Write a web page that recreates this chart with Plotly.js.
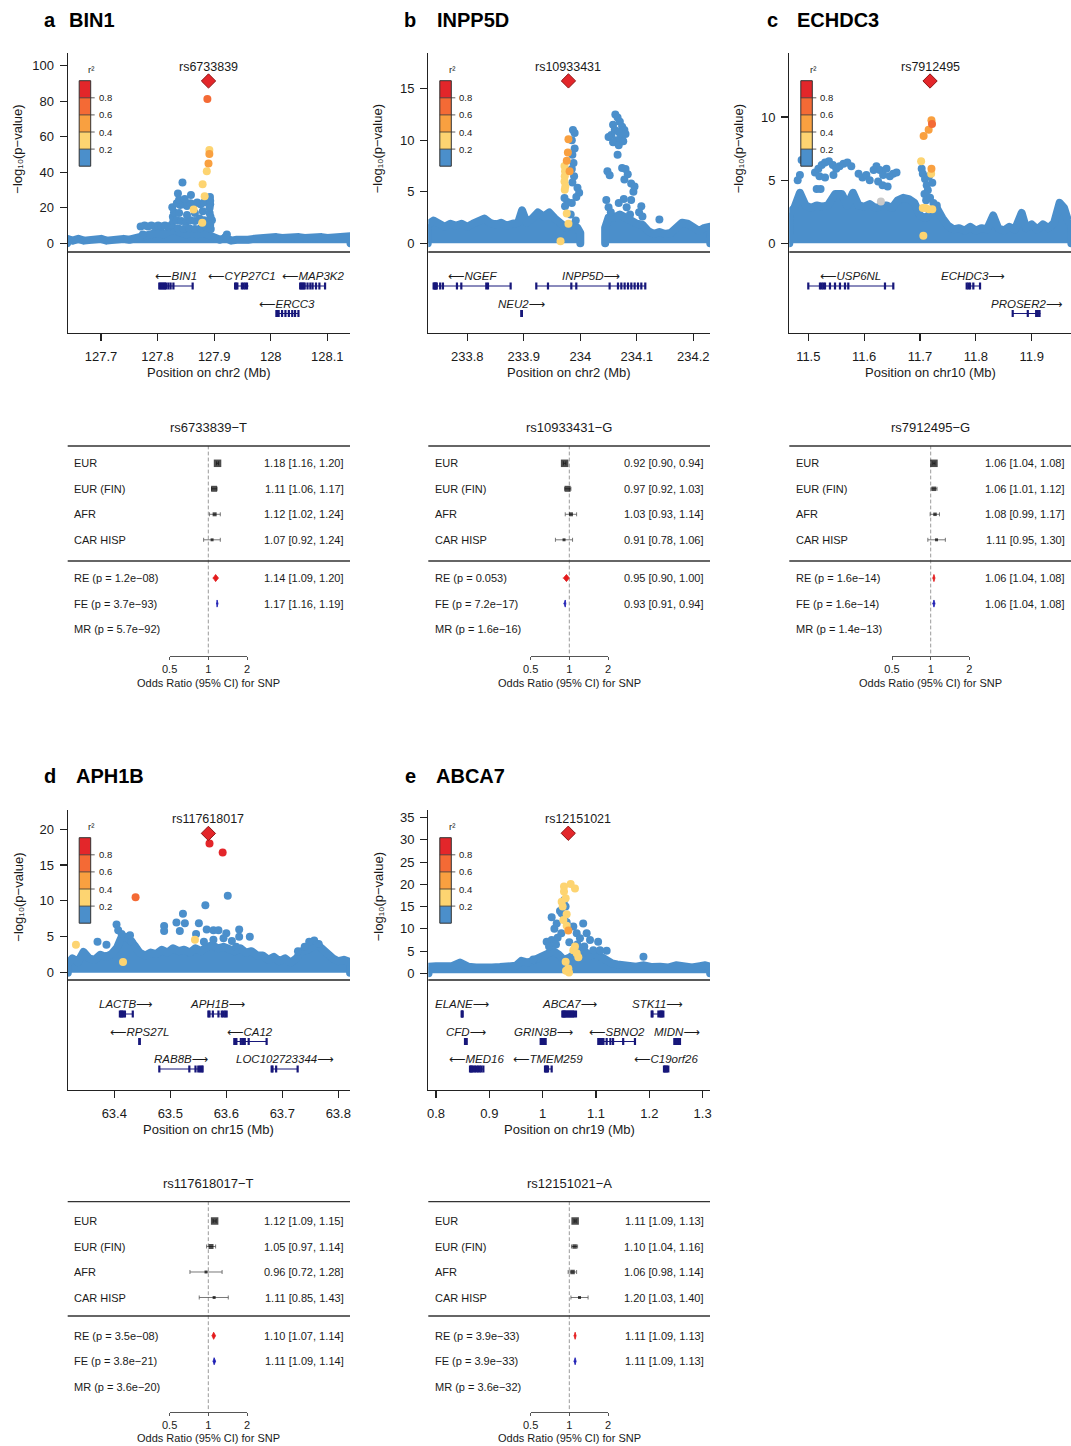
<!DOCTYPE html>
<html><head><meta charset="utf-8">
<script src="https://cdn.plot.ly/plotly-3.0.1.min.js"></script>
<style>
html,body{margin:0;padding:0;background:#fff;}
#chart{width:1071px;height:1446px;}
.js-line{stroke-linejoin:round;stroke-linecap:round;}
</style></head><body><div id="chart"></div>
<script>
// ======================= DATA =======================
const panelLetter = ['a','b','c','d','e'];
const panelGene   = ['BIN1','INPP5D','ECHDC3','APH1B','ABCA7'];
const chromName   = ['chr2','chr2','chr10','chr15','chr19'];
const leadSnp     = ['rs6733839','rs10933431','rs7912495','rs117618017','rs12151021'];
const leadAllele  = ['T','G','G','T','A'];
const leadPos     = [127.890, 233.979, 11.718, 63.568, 1.048];
const leadLogP    = [91.4, 15.75, 12.85, 19.4, 31.5];
const xTicks = [[127.7,127.8,127.9,128,128.1],[233.8,233.9,234,234.1,234.2],[11.5,11.6,11.7,11.8,11.9],[63.4,63.5,63.6,63.7,63.8],[0.8,0.9,1,1.1,1.2,1.3]];
const yTicks = [[0,20,40,60,80,100],[0,5,10,15],[0,5,10],[0,5,10,15,20],[0,5,10,15,20,25,30,35]];

// ---- dense low-significance band (top envelope of the point cloud, r2<0.2) ----
const bandX_a = [127.640,127.650,127.660,127.670,127.680,127.690,127.700,127.710,127.720,127.730,127.740,127.750,127.760,127.770,127.780,127.790,127.800,127.810,127.820,127.830,127.840,127.850,127.860,127.870,127.880,127.890,127.900,127.910,127.920,127.930,127.940,127.950,127.960,127.970,127.980,127.990,128.000,128.010,128.020,128.030,128.040,128.050,128.060,128.070,128.080,128.090,128.100,128.110,128.120,128.130,128.141];
const bandY_a = [2.5,1.5,2.5,1.5,2,1.5,2.5,1.5,2,1.5,2.5,2,3,4,5,5.5,6,5,7,8,6,5,6,5,6,5,3,2,3,1.5,2,1.5,2,2.5,3,2.5,3,3.5,3,3.5,3,3.5,3,3.5,3,3.5,3,3.5,3,3.5,4];
const bandX_b = [233.730,233.740,233.750,233.760,233.770,233.780,233.790,233.800,233.810,233.820,233.830,233.840,233.850,233.860,233.870,233.880,233.890,233.897,233.905,233.915,233.925,233.935,233.945,233.955,233.965,233.975,233.985,233.995,234.000,null,234.044,234.050,234.060,234.070,234.080,234.090,234.100,234.110,234.120,234.130,234.140,234.150,234.160,234.170,234.180,234.190,234.200,234.210,234.220,234.230];
const bandY_b = [1.8,2.2,2.0,1.6,1.9,1.7,1.9,1.6,1.9,2.1,2.4,2.0,1.8,2.0,1.7,1.9,2.0,3.2,2.0,2.4,3.0,2.6,3.0,2.4,2.0,1.5,1.8,1.5,1.0,null,1.5,2.5,2.5,2.8,2.6,2.2,1.9,1.8,1.2,0.9,1.1,0.9,1.0,1.4,2.0,1.9,1.6,1.2,1.5,1.6];
const bandX_c = [11.466,11.475,11.485,11.495,11.505,11.515,11.525,11.535,11.548,11.560,11.570,11.580,11.590,11.600,11.610,11.620,11.630,11.640,11.650,11.660,11.670,11.680,11.690,11.700,11.710,11.720,11.730,11.740,11.750,11.760,11.770,11.780,11.790,11.800,11.810,11.820,11.831,11.840,11.850,11.860,11.870,11.882,11.890,11.900,11.910,11.920,11.930,11.940,11.950,11.958,11.965,11.971];
const bandY_c = [2.4,2.8,4.0,3.0,2.8,3.0,2.9,3.0,3.9,3.9,3.0,4.0,3.0,2.9,3.1,2.8,2.9,3.0,2.8,3.4,3.6,3.5,3.2,2.2,2.0,2.4,2.8,2.0,1.4,1.1,1.2,1.0,1.3,1.0,1.2,1.1,2.2,1.2,1.0,1.3,1.1,2.4,1.2,1.5,1.1,1.5,1.2,1.6,3.2,2.8,1.8,1.5];
const bandX_d = [63.317,63.325,63.335,63.345,63.355,63.365,63.375,63.385,63.395,63.405,63.412,63.420,63.428,63.436,63.445,63.455,63.465,63.475,63.485,63.495,63.505,63.515,63.525,63.535,63.545,63.555,63.565,63.575,63.585,63.595,63.605,63.615,63.625,63.635,63.645,63.655,63.665,63.675,63.685,63.695,63.705,63.715,63.725,63.735,63.745,63.755,63.762,63.770,63.780,63.790,63.800,63.810,63.821];
const bandY_d = [1.2,2.0,1.5,2.9,2.0,1.8,2.5,2.2,2.6,3.5,4.8,5.0,4.6,3.8,2.8,2.4,2.8,2.6,3.2,2.8,3.4,3.0,3.2,2.8,3.4,3.0,3.6,3.8,3.4,3.6,3.2,3.0,3.4,2.8,3.0,2.4,2.4,1.8,2.2,1.6,2.0,1.4,2.0,3.0,3.2,3.8,4.0,3.4,2.6,2.0,1.6,1.8,1.5];
const bandX_e = [0.786,0.800,0.815,0.830,0.845,0.860,0.875,0.890,0.905,0.920,0.935,0.950,0.960,0.972,0.985,0.998,1.010,1.020,1.030,1.040,1.050,1.060,1.070,1.080,1.090,1.100,1.110,1.120,1.130,1.140,1.150,1.160,1.175,1.190,1.205,1.220,1.235,1.250,1.265,1.280,1.295,1.305,1.314];
const bandY_e = [1.5,1.6,1.4,1.6,2.4,1.5,1.3,1.5,1.3,1.4,1.5,1.7,2.8,2.4,3.0,3.6,4.5,5.0,4.2,3.0,3.5,4.4,5.2,4.8,4.0,4.4,3.5,2.6,2.2,2.0,1.8,1.6,1.5,1.8,1.4,1.5,1.3,1.8,1.4,1.3,1.6,1.8,1.5];

// ---- individual SNPs with r2 < 0.2 above the band ----
const bgX_a = [127.774,127.770,127.777,127.783,127.789,127.795,127.801,127.807,127.813,127.819,
  127.825,127.828,127.827,127.829,127.826,127.836,127.844,127.859,127.834,127.840,
  127.846,127.852,127.858,127.864,127.870,127.876,127.882,127.893,127.838,127.848,
  127.834,127.842,127.850,127.858,127.866,127.874,127.882,127.890,127.896,127.838,
  127.852,127.866,127.880,127.892,127.836,127.846,127.856,127.866,127.876,127.886,
  127.894,127.8926,127.893,127.892,127.8935,127.893,127.9225,127.920];
const bgY_a = [5.0,9.5,10,9.5,10,9.5,10,9.5,10,9.5,
  10.5,12.5,15,17.5,20.3,28.1,34.3,27.2,22.5,21.5,
  22,21,22.5,22,23,22,23,22,24.5,25,
  13,12.5,12,13,12.5,14,13,12,13,17,
  16,17,18,17,8.5,8,8.5,8,8.5,9,
  8,26,24,20,15,10.5,5.0,3.5];
const bgX_b = [233.987,233.990,233.985,233.990,233.986,233.988,233.985,233.989,233.986,233.995,
  233.998,233.993,233.985,233.977,233.983,233.992,233.973,233.972,
  234.062,234.066,234.070,234.058,234.074,234.078,234.061,234.055,234.068,234.072,
  234.080,234.050,234.064,234.058,234.068,234.076,234.066,234.048,234.052,234.074,
  234.080,234.084,234.078,234.046,234.050,234.054,234.068,234.077,234.082,234.088,
  234.094,234.090,234.108,234.104,234.110,234.140,234.090,234.096];
const bgY_b = [11.0,10.7,10.0,9.2,8.6,7.8,7.2,6.5,5.9,5.4,
  4.9,4.5,3.9,4.0,2.8,2.2,3.6,4.4,
  12.5,12.2,11.8,11.5,11.3,11.0,11.0,10.5,10.8,10.4,
  10.6,10.3,10.0,9.8,9.5,9.9,8.6,7.0,6.6,7.3,
  7.2,6.7,6.2,4.2,3.5,3.0,3.9,4.3,3.5,2.8,
  5.0,4.2,3.6,3.0,2.6,2.3,5.8,5.5];
const bgX_c = [11.488,11.485,11.481, 11.515,11.522,
  11.512,11.518,11.524,11.530,11.537,11.544,11.550,11.556,11.563,11.570,11.577,11.520,11.530,11.545,
  11.590,11.597,11.604,11.610,
  11.617,11.622,11.628,11.634,11.640,11.646,11.652,11.658,11.625,11.633,11.642,
  11.703,11.705,11.709,11.712,11.714,11.708,11.718,11.722,11.716,11.711,11.724,11.730];
const bgY_c = [6.6,5.4,5.0, 4.3,4.3,
  5.6,5.9,6.2,6.4,6.5,6.2,5.9,6.1,6.3,6.4,6.1,5.3,5.2,5.4,
  5.5,5.2,5.4,5.0,
  5.8,6.1,5.8,5.4,5.9,5.3,5.5,5.6,4.9,4.6,4.5,
  5.9,5.5,5.1,4.6,4.2,3.9,3.6,4.8,5.3,3.4,3.2,3.0];
const bgX_d = [63.5626,63.6026,63.5226,63.489,63.489,63.511,63.526,63.517,63.551,63.565,
  63.577,63.586,63.577,63.600,63.623,63.623,63.642,63.6175,63.404,63.407,
  63.413,63.428,63.431,63.370,63.386,63.757,63.748,63.765,63.740,63.728,
  63.546,63.560,63.595,63.610];
const bgY_d = [9.4,10.7,8.2,6.5,5.8,7.0,6.9,5.8,6.9,6.0,
  5.9,5.9,4.6,5.5,6.0,5.0,5.0,3.6,6.7,5.9,
  5.4,5.2,4.3,4.3,3.9,4.5,4.3,4.0,3.6,3.0,
  5.4,4.3,4.8,4.4];
const bgX_e = [1.0169,1.0325,1.043,1.0406,1.0263,1.022,1.0075,1.0169,1.076,1.0825,
  1.0888,1.104,1.095,1.1075,1.120,1.189,0.9825,1.0575,1.0638,1.070,
  1.035,1.028,1.045,1.040,1.0356,1.050,1.065,1.078,1.012,1.025];
const bgY_e = [12.6,14.0,15.0,16.5,11.2,10.0,7.1,7.5,11.2,9.0,
  7.5,7.1,5.2,5.2,5.1,3.7,3.1,10.5,9.0,7.9,
  9.0,8.0,11.5,12.5,13.5,7.0,6.5,6.0,6.0,6.5];

// ---- SNPs in LD with the lead SNP (r2 >= 0.2) ----
const ldX_a = [127.8915,127.8915,127.890,127.887,127.8796,127.8832,127.8637,127.879,127.888];
const ldY_a = [52.5,50.3,45,40.5,33.2,26.5,19.1,11.6,81.2];
const ldR2_a = [0.3,0.5,0.5,0.3,0.3,0.3,0.3,0.3,0.7];
const ldX_b = [233.972,233.973,233.9725,233.972,233.9735,233.9725,233.976,233.979,233.965,233.979,233.978,233.976,233.981];
const ldY_b = [7.5,7.0,6.5,6.0,5.5,5.2,2.9,1.9,0.2,10.1,8.8,8.0,7.0];
const ldR2_b = [0.3,0.3,0.3,0.3,0.3,0.3,0.3,0.3,0.3,0.5,0.5,0.5,0.5];
const ldX_c = [11.7205,11.7215,11.7065,11.7155,11.7205,11.702,11.720,11.705,11.710,11.716,11.722,11.706];
const ldY_c = [9.75,9.45,8.5,9.0,5.9,6.5,5.5,2.8,2.8,2.7,2.7,0.6];
const ldR2_c = [0.5,0.7,0.5,0.5,0.5,0.3,0.3,0.3,0.3,0.3,0.3,0.3];
const ldX_d = [63.570,63.5935,63.438,63.3315,63.4156,63.544];
const ldY_d = [18.0,16.75,10.5,3.9,1.5,4.6];
const ldR2_d = [0.9,0.9,0.7,0.3,0.3,0.3];
const ldX_e = [1.0481,1.040,1.0525,1.0606,1.040,1.0431,1.0356,1.0375,1.045,1.0388,1.045,1.0575,1.0638,1.0606,1.0669,1.0431,1.0481,1.0494,1.0438];
const ldY_e = [9.6,19.5,20.1,19.1,18.4,16.9,16.1,15.0,13.3,12.0,10.7,5.2,4.5,6.0,3.6,2.6,1.1,0.2,0.6];
const ldR2_e = [0.5,0.3,0.3,0.3,0.3,0.3,0.3,0.3,0.3,0.3,0.3,0.3,0.3,0.3,0.3,0.3,0.3,0.3,0.3];
// SNP without LD information (panel c)
const naX_c = [11.630];
const naY_c = [3.3];

// ---- genes ----
const geneName_a = ['BIN1','CYP27C1','MAP3K2','ERCC3'];
const geneStart_a = [127.803,127.937,128.052,128.010];
const geneEnd_a = [127.862,127.960,128.096,128.049];
const geneStrand_a = [-1,-1,-1,-1];
const geneRow_a = [1,1,1,2];
const geneExons_a = [[127.803,127.805,127.807,127.809,127.811,127.813,127.815,127.819,127.823,127.828,127.862],[127.937,127.939,127.941,127.949,127.952,127.955,127.958],[128.052,128.054,128.056,128.058,128.060,128.065,128.070,128.074,128.080,128.086,128.096],[128.010,128.012,128.014,128.020,128.026,128.032,128.038,128.043,128.049]];
const geneName_b = ['NGEF','INPP5D','NEU2'];
const geneStart_b = [233.7404,233.9221,233.8956];
const geneEnd_b = [233.8767,234.1150,233.8970];
const geneStrand_b = [-1,1,1];
const geneRow_b = [1,1,2];
const geneExons_b = [[233.7404,233.7418,233.7432,233.7446,233.7460,233.7520,233.7569,233.7817,233.7894,233.8336,233.8366,233.8767],[233.9221,233.9428,233.9841,233.9929,234.0519,234.0667,234.0726,234.0785,234.0844,234.0903,234.0962,234.1021,234.1080,234.1150],[233.8956,233.8966]];
const geneName_c = ['USP6NL','ECHDC3','PROSER2'];
const geneStart_c = [11.500,11.7836,11.866];
const geneEnd_c = [11.6522,11.8075,11.915];
const geneStrand_c = [-1,1,1];
const geneRow_c = [1,1,2];
const geneExons_c = [[11.500,11.5209,11.5239,11.5269,11.5299,11.5388,11.5478,11.5567,11.5657,11.5716,11.6373,11.6522],[11.7836,11.7866,11.7896,11.7955,11.8075],[11.866,11.893,11.908,11.911,11.914]];
const geneName_d = ['LACTB','APH1B','RPS27L','CA12','RAB8B','LOC102723344'];
const geneStart_d = [63.410,63.568,63.4446,63.6143,63.4804,63.681];
const geneEnd_d = [63.433,63.6006,63.4455,63.672,63.5577,63.7274];
const geneStrand_d = [1,1,-1,-1,1,1];
const geneRow_d = [1,1,2,2,3,3];
const geneExons_d = [[63.410,63.412,63.414,63.416,63.419,63.433],[63.568,63.570,63.576,63.586,63.592,63.595,63.598,63.6006],[63.4446,63.4455],[63.6143,63.616,63.618,63.626,63.630,63.633,63.640,63.672],[63.4804,63.534,63.545,63.550,63.553,63.556,63.5577],[63.681,63.6825,63.689,63.7274]];
const geneName_e = ['ELANE','ABCA7','STK11','CFD','GRIN3B','SBNO2','MIDN','MED16','TMEM259','C19orf26'];
const geneStart_e = [0.8481,1.0369,1.2044,0.8544,0.9963,1.1044,1.2469,0.8638,1.0044,1.2275];
const geneEnd_e = [0.8500,1.0625,1.2263,0.8575,1.0056,1.1731,1.2575,0.8888,1.0169,1.2356];
const geneStrand_e = [1,1,1,1,1,-1,1,-1,-1,-1];
const geneRow_e = [1,1,1,2,2,2,2,3,3,3];
const geneExons_e = [[0.8481,0.8490,0.8500],[1.0369,1.0385,1.0400,1.0415,1.0430,1.0450,1.0470,1.0490,1.0510,1.0530,1.0550,1.0570,1.0590,1.0625],[1.2044,1.2060,1.2170,1.2200,1.2220,1.2240,1.2263],[0.8544,0.8555,0.8565,0.8575],[0.9963,0.9980,1.0000,1.0020,1.0040,1.0056],[1.1044,1.1055,1.1070,1.1085,1.1100,1.1120,1.1140,1.1200,1.1270,1.1320,1.1510,1.1731],[1.2469,1.2485,1.2500,1.2520,1.2540,1.2560,1.2575],[0.8638,0.8655,0.8675,0.8700,0.8730,0.8760,0.8790,0.8820,0.8850,0.8888],[1.0044,1.0060,1.0080,1.0100,1.0169],[1.2275,1.2290,1.2310,1.2330,1.2356]];

// ---- forest plots ----
const popLabels = ['EUR','EUR (FIN)','AFR','CAR HISP'];
const popOR = [[1.18,1.11,1.12,1.07],[0.92,0.97,1.03,0.91],[1.06,1.06,1.08,1.11],[1.12,1.05,0.96,1.11],[1.11,1.10,1.06,1.20]];
const popLo = [[1.16,1.06,1.02,0.92],[0.90,0.92,0.93,0.78],[1.04,1.01,0.99,0.95],[1.09,0.97,0.72,0.85],[1.09,1.04,0.98,1.03]];
const popHi = [[1.20,1.17,1.24,1.24],[0.94,1.03,1.14,1.06],[1.08,1.12,1.17,1.30],[1.15,1.14,1.28,1.43],[1.13,1.16,1.14,1.40]];
const reOR = [1.14,0.95,1.06,1.10,1.11];
const reLo = [1.09,0.90,1.04,1.07,1.09];
const reHi = [1.20,1.00,1.08,1.14,1.13];
const reP  = [1.2e-8,0.053,1.6e-14,3.5e-8,3.9e-33];
const feOR = [1.17,0.93,1.06,1.11,1.11];
const feLo = [1.16,0.91,1.04,1.09,1.09];
const feHi = [1.19,0.94,1.08,1.14,1.13];
const feP  = [3.7e-93,7.2e-17,1.6e-14,3.8e-21,3.9e-33];
const mrP  = [5.7e-92,1.6e-16,1.4e-13,3.6e-20,3.6e-32];
const orTicks = [0.5,1,2];

// ======================= STYLE / GEOMETRY =======================
const W = 1071, H = 1446;
const FONT = '"Liberation Sans", Arial, Helvetica, "DejaVu Sans", sans-serif';
const TXT = '#1a1a1a';
const C_BLUE='#4B8FCB', C_YEL='#FDD471', C_ORA='#F9A040', C_ORR='#F46A35', C_RED='#E3262A', C_NA='#C9C9C9';
const NAVY = '#17177A';
const fx = p => p / W, fy = p => 1 - p / H;
const COLS = [{l:67.7, r:350, c1:208.3},{l:428.3, r:710, c1:569.3},{l:789.3, r:1071, c1:930.7}];
const ROWG = [
  {title:20, scTop:53, scBot:252, gBot:333, axTitle:373, yMid:149, fTitle:427, fTop:446, fEur:463.3, fSep:561, fAxis:656, fAxTitle:683},
  {title:776, scTop:810, scBot:980, gBot:1090, axTitle:1129, yMid:897, fTitle:1183, fTop:1201.7, fEur:1221, fSep:1316, fAxis:1411.7, fAxTitle:1438}
];
const POS = [{c:0,r:0},{c:1,r:0},{c:2,r:0},{c:0,r:1},{c:1,r:1}];
const XCAL = [{v:127.7,px:101.0,ppu:565.8},{v:233.8,px:467.3,ppu:565},{v:11.5,px:808.3,ppu:558.5},{v:63.4,px:114.3,ppu:560},{v:0.8,px:436,ppu:533.3}];
const YCAL = [{px:243.3,ppu:1.776},{px:243.3,ppu:10.31},{px:243.3,ppu:12.63},{px:972.7,ppu:7.18},{px:973.3,ppu:4.446}];
const titleX = [{l:50,g:67},{l:410,g:435},{l:772,g:795},{l:50,g:74},{l:410,g:434}];
const leadLabelDx = [0,0,0,0,10];
const boxSize = [[7.5,6,4,3],[7.5,6,4,3],[7.5,4.5,3.5,3],[7.5,5,3,3],[7.5,4.5,4.5,3]];
const ROWPX = 25.5, GENE_ROWPX = 27.5;

const bands = [[bandX_a,bandY_a],[bandX_b,bandY_b],[bandX_c,bandY_c],[bandX_d,bandY_d],[bandX_e,bandY_e]];
const bgs = [[bgX_a,bgY_a],[bgX_b,bgY_b],[bgX_c,bgY_c],[bgX_d,bgY_d],[bgX_e,bgY_e]];
const lds = [[ldX_a,ldY_a,ldR2_a],[ldX_b,ldY_b,ldR2_b],[ldX_c,ldY_c,ldR2_c],[ldX_d,ldY_d,ldR2_d],[ldX_e,ldY_e,ldR2_e]];
const nas = [[[],[]],[[],[]],[naX_c,naY_c],[[],[]],[[],[]]];
const genes = [
  [geneName_a,geneStart_a,geneEnd_a,geneStrand_a,geneRow_a,geneExons_a],
  [geneName_b,geneStart_b,geneEnd_b,geneStrand_b,geneRow_b,geneExons_b],
  [geneName_c,geneStart_c,geneEnd_c,geneStrand_c,geneRow_c,geneExons_c],
  [geneName_d,geneStart_d,geneEnd_d,geneStrand_d,geneRow_d,geneExons_d],
  [geneName_e,geneStart_e,geneEnd_e,geneStrand_e,geneRow_e,geneExons_e]];

function r2col(r){ return r<0.2?C_BLUE : r<0.4?C_YEL : r<0.6?C_ORA : r<0.8?C_ORR : C_RED; }
function fmtP(p){
  if (p >= 0.001) return String(p);
  const parts = p.toExponential(1).split('e');
  const n = parseInt(parts[1],10);
  return parts[0] + 'e' + (n<0?'\u2212':'+') + String(Math.abs(n)).padStart(2,'0');
}
function bandPolygon(xs, ys){
  const px=[], py=[]; let seg=[];
  const flush=()=>{ if(seg.length){ px.push(seg[0][0]); py.push(0); seg.forEach(p=>{px.push(p[0]);py.push(p[1]);}); px.push(seg[seg.length-1][0]); py.push(0); px.push(null); py.push(null);} seg=[]; };
  xs.forEach((x,k)=>{ if(x===null) flush(); else seg.push([x,ys[k]]); });
  flush();
  return {x:px, y:py};
}

const traces = [];
const layout = {width:W, height:H, margin:{l:0,r:0,t:0,b:0}, paper_bgcolor:'#fff', plot_bgcolor:'rgba(0,0,0,0)',
  showlegend:false, font:{family:FONT, size:13, color:TXT}, annotations:[], shapes:[]};
function ann(o){ const f = Object.assign({family:FONT,size:13,color:TXT}, o.font||{}); layout.annotations.push(Object.assign({showarrow:false, xref:'paper', yref:'paper'}, o, {font:f})); }
function hline(x0,x1,y,color,w){ layout.shapes.push({type:'line',xref:'paper',yref:'paper',x0:fx(x0),x1:fx(x1),y0:fy(y),y1:fy(y),line:{color:color,width:w}}); }
const axN = n => n===1 ? '' : String(n);

for (let i=0;i<5;i++){
  const C = COLS[POS[i].c], R = ROWG[POS[i].r];
  const nxL = 2*i+1, nxF = 2*i+2, nyS = 3*i+1, nyG = 3*i+2, nyF = 3*i+3;
  const xL='x'+axN(nxL), xF='x'+axN(nxF), yS='y'+axN(nyS), yG='y'+axN(nyG), yF='y'+axN(nyF);
  const xc = XCAL[i], yc = YCAL[i];
  const xRange = [xc.v - (xc.px - C.l)/xc.ppu, xc.v + (C.r - xc.px)/xc.ppu];
  const yRange = [-(R.scBot - yc.px)/yc.ppu, (yc.px - R.scTop)/yc.ppu];
  const gTopVal = 1 - 34/GENE_ROWPX, gBotVal = 1 + (R.gBot - R.scBot - 34)/GENE_ROWPX;

  // ---------- axes ----------
  layout['xaxis'+axN(nxL)] = {domain:[fx(C.l), fx(C.r)], anchor:yG, range:xRange, showline:true, linecolor:'#222', linewidth:1.2,
    ticks:'outside', ticklen:7, tickwidth:1.1, tickcolor:'#222', tickmode:'array', tickvals:xTicks[i], ticktext:xTicks[i].map(String),
    tickfont:{family:FONT,size:13,color:TXT}, ticklabelstandoff:4, showgrid:false, zeroline:false, fixedrange:true};
  layout['yaxis'+axN(nyS)] = {domain:[fy(R.scBot), fy(R.scTop)], anchor:xL, range:yRange, showline:true, linecolor:'#222', linewidth:1.2,
    ticks:'outside', ticklen:7, tickwidth:1.1, tickcolor:'#222', tickmode:'array', tickvals:yTicks[i], ticktext:yTicks[i].map(String),
    tickfont:{family:FONT,size:13,color:TXT}, ticklabelstandoff:3, showgrid:false, zeroline:false, fixedrange:true};
  layout['yaxis'+axN(nyG)] = {domain:[fy(R.gBot), fy(R.scBot)], anchor:xL, range:[gBotVal, gTopVal], showline:true, linecolor:'#222', linewidth:1.2,
    ticks:'', showticklabels:false, showgrid:false, zeroline:false, fixedrange:true};
  const lg2 = Math.log10(2), ppd = 38.7;
  layout['xaxis'+axN(nxF)] = {domain:[fx(C.c1-ppd), fx(C.c1+ppd)], anchor:yF, type:'log', range:[-lg2, lg2], showline:true, linecolor:'#555', linewidth:1,
    ticks:'outside', ticklen:3, tickwidth:1, tickcolor:'#555', tickmode:'array', tickvals:orTicks, ticktext:orTicks.map(String),
    tickfont:{family:FONT,size:11,color:TXT}, ticklabelstandoff:0, showgrid:false, zeroline:false, fixedrange:true};
  const fTopVal = 1 - (R.fEur - R.fTop)/ROWPX, fBotVal = 1 + (R.fAxis - R.fEur)/ROWPX;
  layout['yaxis'+axN(nyF)] = {domain:[fy(R.fAxis), fy(R.fTop)], anchor:xF, range:[fBotVal, fTopVal], visible:false, fixedrange:true};

  // ---------- locus scatter ----------
  const poly = bandPolygon(bands[i][0], bands[i][1]);
  traces.push({type:'scatter', mode:'lines', x:poly.x, y:poly.y, xaxis:xL, yaxis:yS, fill:'toself', fillcolor:C_BLUE,
    line:{color:C_BLUE, width:8}, hoverinfo:'skip'});
  traces.push({type:'scatter', mode:'markers', x:bgs[i][0], y:bgs[i][1], xaxis:xL, yaxis:yS,
    marker:{size:8, color:C_BLUE, line:{width:0}}, hoverinfo:'skip'});
  if (nas[i][0].length) traces.push({type:'scatter', mode:'markers', x:nas[i][0], y:nas[i][1], xaxis:xL, yaxis:yS,
    marker:{size:8, color:C_NA, line:{width:0}}, hoverinfo:'skip'});
  [0.3,0.5,0.7,0.9].forEach(cls=>{
    const idx = lds[i][2].map((r,k)=>[r,k]).filter(p=>r2col(p[0])===r2col(cls)).map(p=>p[1]);
    if (!idx.length) return;
    traces.push({type:'scatter', mode:'markers', x:idx.map(k=>lds[i][0][k]), y:idx.map(k=>lds[i][1][k]), xaxis:xL, yaxis:yS,
      marker:{size:8, color:r2col(cls), line:{width:0}}, hoverinfo:'skip'});
  });
  traces.push({type:'scatter', mode:'markers', x:[leadPos[i]], y:[leadLogP[i]], xaxis:xL, yaxis:yS,
    marker:{symbol:'diamond', size:11, color:C_RED, line:{color:'#8E1515', width:1}}, hoverinfo:'skip', cliponaxis:false});
  ann({xref:xL, yref:yS, x:leadPos[i], y:leadLogP[i], yshift:14, xshift:leadLabelDx[i], text:leadSnp[i], font:{size:12.5}});

  // separator line between scatter and gene track
  hline(C.l, C.r, R.scBot, '#222', 1.3);

  // ---------- gene track ----------
  const G = genes[i];
  const lx=[], ly=[], ex=[], ey=[];
  G[0].forEach((name,k)=>{
    lx.push(G[1][k], G[2][k], null); ly.push(G[4][k], G[4][k], null);
    G[5][k].forEach(e=>{ ex.push(e); ey.push(G[4][k]); });
    const label = G[3][k] < 0 ? '\u27F5' + name : name + '\u27F6';
    ann({xref:xL, yref:yG, x:(G[1][k]+G[2][k])/2, y:G[4][k], yshift:10, text:label, font:{size:11.5, style:'italic'}});
  });
  traces.push({type:'scatter', mode:'lines', x:lx, y:ly, xaxis:xL, yaxis:yG, line:{color:NAVY, width:1}, hoverinfo:'skip'});
  traces.push({type:'scatter', mode:'markers', x:ex, y:ey, xaxis:xL, yaxis:yG,
    marker:{symbol:'line-ns', size:5, color:NAVY, line:{color:NAVY, width:2.2}}, hoverinfo:'skip'});

  // ---------- r2 legend ----------
  const bl = C.l + 11.5, bw = 11.5, bt = R.scTop + 27.7, bh = 85.5;
  const cls = [C_BLUE, C_YEL, C_ORA, C_ORR, C_RED];
  cls.forEach((c,k)=>{
    const y1 = bt + bh - k*bh/5, y0 = y1 - bh/5;
    layout.shapes.push({type:'rect', xref:'paper', yref:'paper', x0:fx(bl), x1:fx(bl+bw), y0:fy(y1), y1:fy(y0), fillcolor:c, line:{width:0}});
  });
  [0.2,0.4,0.6,0.8].forEach(v=>{
    const yy = bt + bh*(1-v);
    hline(bl, bl+bw+4, yy, '#333', 0.8);
    ann({x:fx(bl+bw+6), y:fy(yy), xanchor:'left', yanchor:'middle', text:String(v), font:{size:9.5}});
  });
  layout.shapes.push({type:'rect', xref:'paper', yref:'paper', x0:fx(bl), x1:fx(bl+bw), y0:fy(bt+bh), y1:fy(bt), line:{color:'#333', width:1}});
  ann({x:fx(bl+bw/2+6), y:fy(bt-11), xanchor:'center', yanchor:'middle', text:'r\u00B2', font:{size:9.5}});

  // ---------- panel texts ----------
  ann({x:fx(titleX[i].l), y:fy(R.title), xanchor:'center', yanchor:'middle', text:panelLetter[i], font:{size:20, color:'#000', weight:'bold'}});
  ann({x:fx(titleX[i].g), y:fy(R.title), xanchor:'left', yanchor:'middle', text:panelGene[i], font:{size:20, color:'#000', weight:'bold'}});
  ann({x:fx(C.l-50), y:fy(R.yMid), xanchor:'center', yanchor:'middle', textangle:-90, text:'\u2212log\u2081\u2080(p\u2212value)', font:{size:13}});
  ann({x:fx((C.l+C.r)/2), y:fy(R.axTitle), xanchor:'center', yanchor:'middle', text:'Position on '+chromName[i]+' (Mb)', font:{size:13}});

  // ---------- forest plot ----------
  ann({x:fx(C.c1), y:fy(R.fTitle), xanchor:'center', yanchor:'middle', text:leadSnp[i]+'\u2212'+leadAllele[i], font:{size:13}});
  hline(C.l, C.r, R.fTop, '#333', 1.3);
  hline(C.l, C.r, R.fSep, '#333', 1.3);
  traces.push({type:'scatter', mode:'lines', x:[1,1], y:[fTopVal, fBotVal], xaxis:xF, yaxis:yF, line:{color:'#9a9a9a', width:1, dash:'dot'}, hoverinfo:'skip', cliponaxis:false});
  const rows = [1,2,3,4];
  traces.push({type:'scatter', mode:'markers', x:popOR[i], y:rows, xaxis:xF, yaxis:yF,
    marker:{symbol:'square', size:boxSize[i], color:'#000', line:{width:0}},
    error_x:{type:'data', symmetric:false, array:popHi[i].map((h,k)=>h-popOR[i][k]), arrayminus:popOR[i].map((o,k)=>o-popLo[i][k]), color:'#555', thickness:0.8, width:2},
    hoverinfo:'skip', cliponaxis:false});
  const dh = 0.14;
  const diamond = (lo,o,hi,r,col)=>({type:'scatter', mode:'lines', x:[lo,o,hi,o,lo], y:[r,r-dh,r,r+dh,r], xaxis:xF, yaxis:yF,
    fill:'toself', fillcolor:col, line:{color:col, width:0.8}, hoverinfo:'skip', cliponaxis:false});
  traces.push(diamond(reLo[i], reOR[i], reHi[i], 5.5, '#E31A1C'));
  traces.push(diamond(feLo[i], feOR[i], feHi[i], 6.5, '#1F1FB4'));
  const labels = popLabels.concat(['RE (p = '+fmtP(reP[i])+')', 'FE (p = '+fmtP(feP[i])+')', 'MR (p = '+fmtP(mrP[i])+')']);
  const labRows = [1,2,3,4,5.5,6.5,7.5];
  labels.forEach((t,k)=> ann({yref:yF, x:fx(C.l+4.5), y:labRows[k], xanchor:'left', yanchor:'middle', text:t, font:{size:11}}));
  const f2 = v => v.toFixed(2);
  const vals = popOR[i].map((o,k)=> f2(o)+' ['+f2(popLo[i][k])+', '+f2(popHi[i][k])+']')
    .concat([f2(reOR[i])+' ['+f2(reLo[i])+', '+f2(reHi[i])+']', f2(feOR[i])+' ['+f2(feLo[i])+', '+f2(feHi[i])+']']);
  vals.forEach((t,k)=> ann({yref:yF, x:fx(C.r-4.5), y:labRows[k], xanchor:'right', yanchor:'middle', text:t, font:{size:11}}));
  ann({x:fx(C.c1), y:fy(R.fAxTitle), xanchor:'center', yanchor:'middle', text:'Odds Ratio (95% CI) for SNP', font:{size:11}});
}

Plotly.newPlot('chart', traces, layout, {staticPlot:true, displayModeBar:false});
</script></body></html>
